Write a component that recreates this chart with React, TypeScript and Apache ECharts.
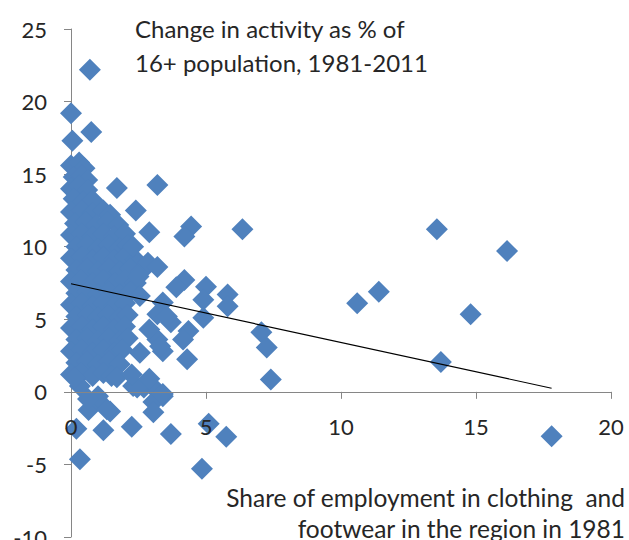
import React, { useEffect, useRef } from "react";
import * as echarts from "echarts";

// Dense core of regions (share of clothing & footwear employment, change in activity)
const denseCore: [number, number][] = [
  [0, 15.6], [0.3, 15.8], [0.5, 15.4],
  [0.1, 14.8], [0.4, 14.9], [0.6, 14.6],
  [0, 14.0], [0.3, 14.2], [0.6, 13.9],
  [0.1, 13.3], [0.45, 13.1], [0.8, 13.2],
  [0, 12.4], [0.4, 12.5], [0.8, 12.3], [1.2, 12.5], [1.45, 12.2],
  [0.15, 11.6], [0.55, 11.7], [0.95, 11.5], [1.35, 11.7], [1.75, 11.5],
  [0, 10.8], [0.4, 10.9], [0.8, 10.7], [1.2, 10.9], [1.6, 10.7], [2.0, 10.9],
  [0.2, 10.0], [0.6, 10.1], [1.0, 9.9], [1.4, 10.1], [1.8, 9.9], [2.1, 10.1],
  [0, 9.2], [0.4, 9.3], [0.8, 9.1], [1.2, 9.3], [1.6, 9.1], [2.0, 9.3], [2.4, 9.1],
  [0.2, 8.4], [0.6, 8.5], [1.0, 8.3], [1.4, 8.5], [1.8, 8.3], [2.2, 8.5], [2.6, 8.3],
  [0, 7.6], [0.4, 7.7], [0.8, 7.5], [1.2, 7.7], [1.6, 7.5], [2.0, 7.7], [2.4, 7.5],
  [0.2, 6.8], [0.6, 6.9], [1.0, 6.7], [1.4, 6.9], [1.8, 6.7], [2.2, 6.9],
  [0, 6.0], [0.4, 6.1], [0.8, 5.9], [1.2, 6.1], [1.6, 5.9], [2.0, 6.1],
  [0.2, 5.2], [0.6, 5.3], [1.0, 5.1], [1.4, 5.3], [1.8, 5.1], [2.1, 5.3],
  [0, 4.4], [0.4, 4.5], [0.8, 4.3], [1.2, 4.5], [1.6, 4.3], [2.0, 4.5],
  [0.2, 3.6], [0.6, 3.7], [1.0, 3.5], [1.4, 3.7], [1.8, 3.5], [2.1, 3.7],
  [0, 2.8], [0.4, 2.9], [0.8, 2.7], [1.2, 2.9], [1.6, 2.7], [1.9, 2.9],
  [0.2, 2.0], [0.6, 2.1], [1.0, 1.9], [1.4, 2.1], [1.8, 1.9],
  [0, 1.2], [0.4, 1.3], [0.8, 1.1], [1.2, 1.3], [1.5, 1.1],
];

// Individually visible regions
const scattered: [number, number][] = [
  [0.7, 22.2], [0, 19.2], [0.75, 17.9], [0.05, 17.3], [1.7, 14.05], [3.2, 14.25],
  [2.4, 12.5], [2.9, 11.0], [4.45, 11.4], [4.2, 10.7], [6.35, 11.2], [2.3, 10.0],
  [13.55, 11.2], [16.15, 9.7], [11.4, 6.9], [10.6, 6.1], [14.8, 5.35], [13.7, 2.05], [17.8, -3.05],
  [4.2, 7.7], [3.9, 7.2], [5.0, 7.25], [4.9, 6.35], [5.8, 6.7], [5.8, 5.9], [4.9, 5.1],
  [3.4, 6.15], [3.2, 5.35], [3.7, 4.8], [4.35, 4.2], [4.15, 3.6], [3.2, 3.6], [3.4, 2.8],
  [4.3, 2.25], [7.05, 4.1], [7.25, 3.05], [7.4, 0.85],
  [2.7, 0.3], [3.2, 0.05], [3.4, -0.3], [3.05, -0.7], [3.05, -1.4], [2.3, 0.4], [2.25, -2.4],
  [3.7, -2.9], [5.1, -2.2], [5.75, -3.1], [4.85, -5.3], [0.33, -4.65], [0.2, -2.55],
  [1.2, -2.65], [1.45, -1.35], [0.65, -1.25], [0.95, -0.5], [0.33, 0.4], [1.0, -0.3],
  [1.33, -1.2], [0.63, -0.5], [3.4, -0.15], [2.45, 0.3], [1.7, 1.0], [0.15, 1.0],
  [2.85, 8.9], [3.2, 8.6], [2.5, 7.95], [2.55, 6.6], [3.55, 5.2], [2.9, 4.3], [3.3, 3.15],
  [2.55, 2.7], [2.9, 0.9], [2.25, 1.2],
];

// Linear trend line end points
const trendX = [0, 17.8];
const trendY = [7.45, 0.25];

const yMin = -10;
const yMax = 25;
const xCross = 0; // value at which the horizontal axis crosses

const yTitleLines = ["Change in activity as % of", "16+ population, 1981-2011"];
const xTitleLines = ["Share of employment in clothing\u00a0\u00a0and", "footwear in the region in 1981"];

const FONT = "Lato, 'Open Sans', sans-serif";
const TEXT = "#262626";
const AXIS = "#868686";
const BLUE = "#4F81BD";

export default function App() {
  const ref = useRef<HTMLDivElement>(null);
  useEffect(() => {
    if (!ref.current) return;
    const chart = echarts.init(ref.current, undefined, { renderer: "svg" });
    chart.setOption({
      animation: false,
      grid: { left: 71, right: 18, top: 29, bottom: 3, containLabel: false, outerBoundsMode: "none" },
      xAxis: {
        type: "value",
        min: 0,
        max: 20,
        interval: 5,
        position: "bottom",
        offset: 0,
        z: 5,
        splitLine: { show: false },
        axisLine: { show: true, onZero: false, lineStyle: { color: AXIS, width: 1 } },
        axisTick: { show: true, inside: false, length: 7, lineStyle: { color: AXIS } },
        axisLabel: { color: TEXT, fontSize: 22, fontFamily: FONT, margin: 24 },
      },
      yAxis: {
        type: "value",
        min: yMin,
        max: yMax,
        interval: 5,
        splitLine: { show: false },
        axisLine: { show: true, onZero: false, lineStyle: { color: AXIS, width: 1 } },
        axisTick: { show: true, inside: false, length: 7, lineStyle: { color: AXIS } },
        axisLabel: { color: TEXT, fontSize: 22, fontFamily: FONT, margin: 24 },
      },
      series: [
        {
          type: "scatter",
          data: [...denseCore, ...scattered],
          symbol: "diamond",
          symbolSize: 22,
          itemStyle: { color: BLUE, opacity: 1 },
          z: 2,
        },
        {
          type: "line",
          data: trendX.map((x, i) => [x, trendY[i]]),
          symbol: "none",
          lineStyle: { color: "#000000", width: 1.2 },
          z: 6,
        },
      ],
      graphic: [
        ...yTitleLines.map((t, i) => ({
          type: "text",
          x: 135,
          y: 28 + i * 34,
          style: { text: t, fill: TEXT, font: `24px ${FONT}`, align: "left", verticalAlign: "middle" },
          z: 10,
        })),
        ...xTitleLines.map((t, i) => ({
          type: "text",
          x: 625,
          y: 497 + i * 31,
          style: { text: t, fill: TEXT, font: `24.5px ${FONT}`, align: "right", verticalAlign: "middle" },
          z: 10,
        })),
      ],
    });
    // Move the horizontal axis so that it crosses the vertical axis at y = xCross
    const pyCross = chart.convertToPixel({ yAxisIndex: 0 }, xCross) as number;
    const pyBottom = chart.convertToPixel({ yAxisIndex: 0 }, yMin) as number;
    chart.setOption({ xAxis: { offset: -(pyBottom - pyCross) } });
    return () => chart.dispose();
  }, []);
  return (
    <div
      ref={ref}
      style={{ position: "fixed", left: 0, top: 0, width: 629, height: 540, background: "#fff" }}
    />
  );
}
